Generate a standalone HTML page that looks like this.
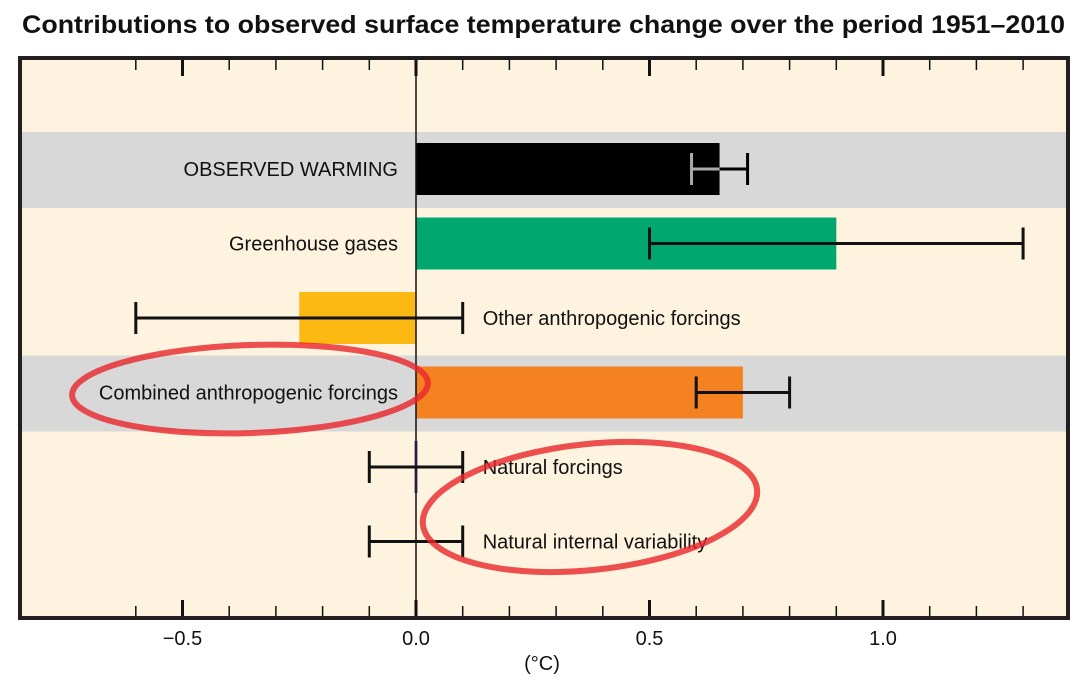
<!DOCTYPE html>
<html><head><meta charset="utf-8"><style>
body{margin:0;background:#fff;}
svg text{font-family:"Liberation Sans",sans-serif;}
</style></head><body>
<svg width="1092" height="689" viewBox="0 0 1092 689" xmlns="http://www.w3.org/2000/svg">
<text x="22" y="33" textLength="1043" lengthAdjust="spacingAndGlyphs" font-size="25" font-weight="bold" fill="#111">Contributions to observed surface temperature change over the period 1951–2010</text>
<rect x="20" y="58" width="1048" height="560" fill="#fdf3de"/>
<g id="bands"></g><g id="bars"></g><g id="ticks"></g>
<rect x="20" y="58" width="1048" height="560" fill="none" stroke="#231f20" stroke-width="4"/>
<text x="542" y="670" text-anchor="middle" font-size="20" fill="#111">(°C)</text>
<ellipse cx="250" cy="389" rx="178" ry="44" transform="rotate(-2 250 389)" fill="none" stroke="#e8262a" stroke-opacity="0.8" stroke-width="6"/>
<ellipse cx="590" cy="507" rx="168" ry="63" transform="rotate(-6 590 507)" fill="none" stroke="#e8262a" stroke-opacity="0.8" stroke-width="6"/>
</svg>
<script>
const categories=["OBSERVED WARMING","Greenhouse gases","Other anthropogenic forcings","Combined anthropogenic forcings","Natural forcings","Natural internal variability"];
const values=[0.65,0.9,-0.25,0.7,0.0,null];
const errLow=[0.59,0.5,-0.6,0.6,-0.1,-0.1];
const errHigh=[0.71,1.3,0.1,0.8,0.1,0.1];
const colors=["#000000","#00a870","#fdb913","#f58220","#5b4a9e",null];
const tickLabels=[-0.5,0.0,0.5,1.0];
const NS="http://www.w3.org/2000/svg";
const X=v=>416+v*467;
const rowY=i=>132+i*74.5;
function mk(tag,attrs,parent,txt){const e=document.createElementNS(NS,tag);for(const k in attrs)e.setAttribute(k,attrs[k]);if(txt!=null)e.textContent=txt;document.getElementById(parent).appendChild(e);return e;}
[0,3].forEach(i=>{const e=mk("rect",{x:20,y:rowY(i),width:1048,height:76,fill:"#d8d8d8"},"bands");

});
categories.forEach((c,i)=>{
 const cy=rowY(i)+37;
 if(values[i]!==null){
  const v=values[i];let x0=Math.min(X(0),X(v)),w=Math.abs(X(v)-X(0));
  if(w<3){x0=X(0)-1.5;w=3;}
  const b=mk("rect",{x:x0,y:cy-26,width:w,height:52,fill:colors[i]},"bars");
  
  
 }
 const ec=i===0?"#000":"#111";
 const g=document.createElementNS(NS,"g");document.getElementById("bars").appendChild(g);
 
 
 const L=(x1,y1,x2,y2,col)=>{const l=document.createElementNS(NS,"line");l.setAttribute("x1",x1);l.setAttribute("y1",y1);l.setAttribute("x2",x2);l.setAttribute("y2",y2);l.setAttribute("stroke",col);l.setAttribute("stroke-width",3);g.appendChild(l);};
 if(i===0){L(X(errLow[i]),cy,X(values[i]),cy,"#aaa");L(X(values[i]),cy,X(errHigh[i]),cy,"#000");L(X(errLow[i]),cy-16,X(errLow[i]),cy+16,"#aaa");}
 else{L(X(errLow[i]),cy,X(errHigh[i]),cy,ec);L(X(errLow[i]),cy-16,X(errLow[i]),cy+16,ec);}
 L(X(errHigh[i]),cy-16,X(errHigh[i]),cy+16,ec);
 const right=(values[i]!==null&&values[i]<0)||i>=4;
 const t=mk("text",{x:right?X(errHigh[i])+20:398,y:cy+7,"text-anchor":right?"start":"end","font-size":20,fill:"#111"},"bars",c);
 
 
});
const z=mk("line",{x1:X(0),y1:58,x2:X(0),y2:618,stroke:"#111","stroke-width":1.5},"ticks");


for(let k=-6;k<=13;k++){const v=k/10,maj=k%5===0,len=maj?18:12;
 [[58,58+len],[618-len,618]].forEach(p=>{const t=mk("line",{x1:X(v),y1:p[0],x2:X(v),y2:p[1],stroke:"#111","stroke-width":maj?3:1.5},"ticks");
 
 });}
tickLabels.forEach(v=>{const t=mk("text",{x:X(v),y:645,"text-anchor":"middle","font-size":20,fill:"#111"},"ticks",(v<0?"−":"")+Math.abs(v).toFixed(1));

});
</script>
</body></html>
